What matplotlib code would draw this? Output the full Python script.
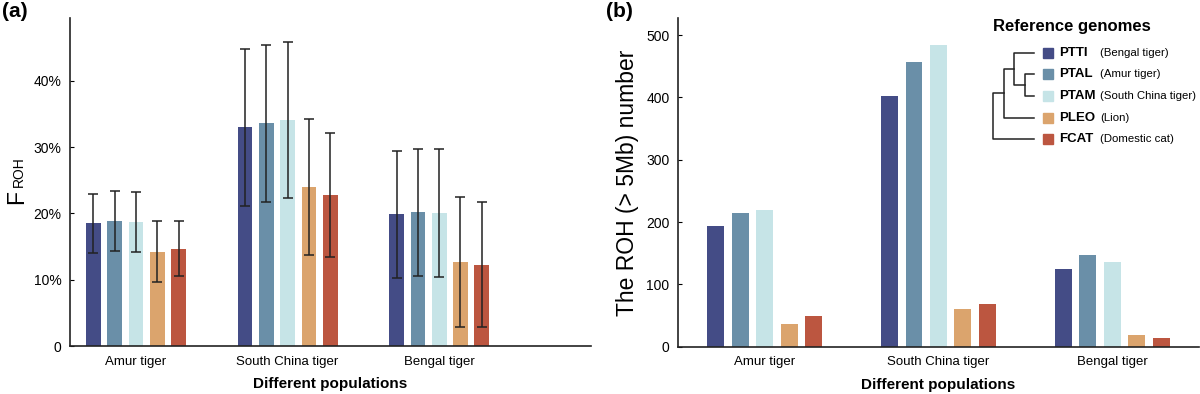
import numpy as np
import matplotlib.pyplot as plt

plt.rcParams['font.family'] = ['Liberation Sans', 'DejaVu Sans']

populations = ['Amur tiger', 'South China tiger', 'Bengal tiger']
genomes = ['PTTI', 'PTAL', 'PTAM', 'PLEO', 'FCAT']
genome_names = ['(Bengal tiger)', '(Amur tiger)', '(South China tiger)', '(Lion)', '(Domestic cat)']
colors = ['#444c86', '#6a8fa8', '#c6e4e7', '#dba46d', '#bc5640']

# F_ROH (%) per population, one list per reference genome
froh_mean = {
    'PTTI': [18.5, 33.0, 19.9],
    'PTAL': [18.9, 33.6, 20.2],
    'PTAM': [18.7, 34.1, 20.1],
    'PLEO': [14.2, 24.0, 12.7],
    'FCAT': [14.7, 22.8, 12.3],
}
froh_sd = {
    'PTTI': [4.4, 11.8, 9.6],
    'PTAL': [4.5, 11.8, 9.6],
    'PTAM': [4.5, 11.8, 9.7],
    'PLEO': [4.6, 10.2, 9.8],
    'FCAT': [4.2, 9.4, 9.4],
}
# number of ROH > 5Mb
roh_count = {
    'PTTI': [194, 403, 124],
    'PTAL': [215, 457, 147],
    'PTAM': [219, 484, 136],
    'PLEO': [37, 60, 19],
    'FCAT': [49, 68, 14],
}
# tree of the reference genomes: (left, right) merges in order
tree_merges = [('PTAL', 'PTAM'), ('PTTI', 0), ('PLEO', 1), ('FCAT', 2)]

fig = plt.figure(figsize=(12, 3.94), dpi=100)
ax1 = fig.add_axes([0.0583, 0.1218, 0.434, 0.8325])
ax2 = fig.add_axes([0.5648, 0.120, 0.4345, 0.8335])

x = np.arange(len(populations))
step = 0.1405
width = 0.097

for i, g in enumerate(genomes):
    off = (i - 2) * step
    ax1.bar(x + off, np.array(froh_mean[g]) / 100, width, color=colors[i],
            yerr=np.array(froh_sd[g]) / 100, capsize=3.5,
            error_kw=dict(ecolor='#222222', elinewidth=1.1, capthick=1.1))
    ax2.bar(x + off, roh_count[g], width, color=colors[i])

for ax in (ax1, ax2):
    for s in ('top', 'right'):
        ax.spines[s].set_visible(False)
    for s in ('left', 'bottom'):
        ax.spines[s].set_linewidth(1.2)
        ax.spines[s].set_color('#222222')
    ax.set_xticks(x)
    ax.set_xticklabels(populations, fontsize=9.5)
    ax.tick_params(axis='x', length=0, pad=7)
    ax.tick_params(axis='y', direction='in', length=3, labelsize=10, pad=6)
    ax.set_xlabel('Different populations', fontsize=11, fontweight='bold', labelpad=7)

ax1.set_xlim(-0.436, 3.0)
ax1.set_ylim(0, 0.495)
ax1.set_yticks([0, 0.1, 0.2, 0.3, 0.4])
ax1.set_yticklabels(['0', '10%', '20%', '30%', '40%'])
# y label "F" with small "ROH" on the same baseline
fig.text(23 / 1200, 1 - 204 / 394, 'F', fontsize=16.5, rotation=90,
         rotation_mode='anchor', ha='left', va='baseline')
fig.text(23 / 1200, 1 - 187 / 394, 'ROH', fontsize=10, rotation=90,
         rotation_mode='anchor', ha='left', va='baseline')

ax2.set_xlim(-0.5, 2.5)
ax2.set_ylim(0, 527)
ax2.set_yticks([0, 100, 200, 300, 400, 500])
ax2.set_ylabel('The ROH (> 5Mb) number', fontsize=16.5, labelpad=5)

fig.text(0.002, 0.995, '(a)', fontsize=15, fontweight='bold', va='top', ha='left')
fig.text(0.505, 0.995, '(b)', fontsize=15, fontweight='bold', va='top', ha='left')

# legend with tree, drawn in a pixel-like coordinate box
lg = fig.add_axes([985 / 1200, 1 - 150 / 394, 215 / 1200, 140 / 394])
lg.set_xlim(985, 1200)
lg.set_ylim(150, 10)
lg.axis('off')
lg.text(1072, 27, 'Reference genomes', fontsize=12, fontweight='bold', ha='center', va='center')

row0, row_gap = 52.7, 21.65
leaf_x, depth_gap = 1034, 10.5
ypos = {g: row0 + i * row_gap for i, g in enumerate(genomes)}
xpos = {g: leaf_x for g in genomes}
for k, (a, b) in enumerate(tree_merges):
    ya, yb = ypos[a], ypos[b]
    xa, xb = xpos[a], xpos[b]
    xj = leaf_x - 9.5 - k * depth_gap
    lg.plot([xa, xj, xj, xb], [ya, ya, yb, yb], color='#222222', lw=1.1)
    ypos[k] = (ya + yb) / 2
    xpos[k] = xj

for i, g in enumerate(genomes):
    y = ypos[g]
    lg.add_patch(plt.Rectangle((1043.3, y - 5), 10, 10, color=colors[i]))
    lg.text(1059, y, g, fontsize=9.5, fontweight='bold', va='center', ha='left')
    lg.text(1100, y, genome_names[i], fontsize=8.2, va='center', ha='left')

fig.savefig('out.png', dpi=100)
